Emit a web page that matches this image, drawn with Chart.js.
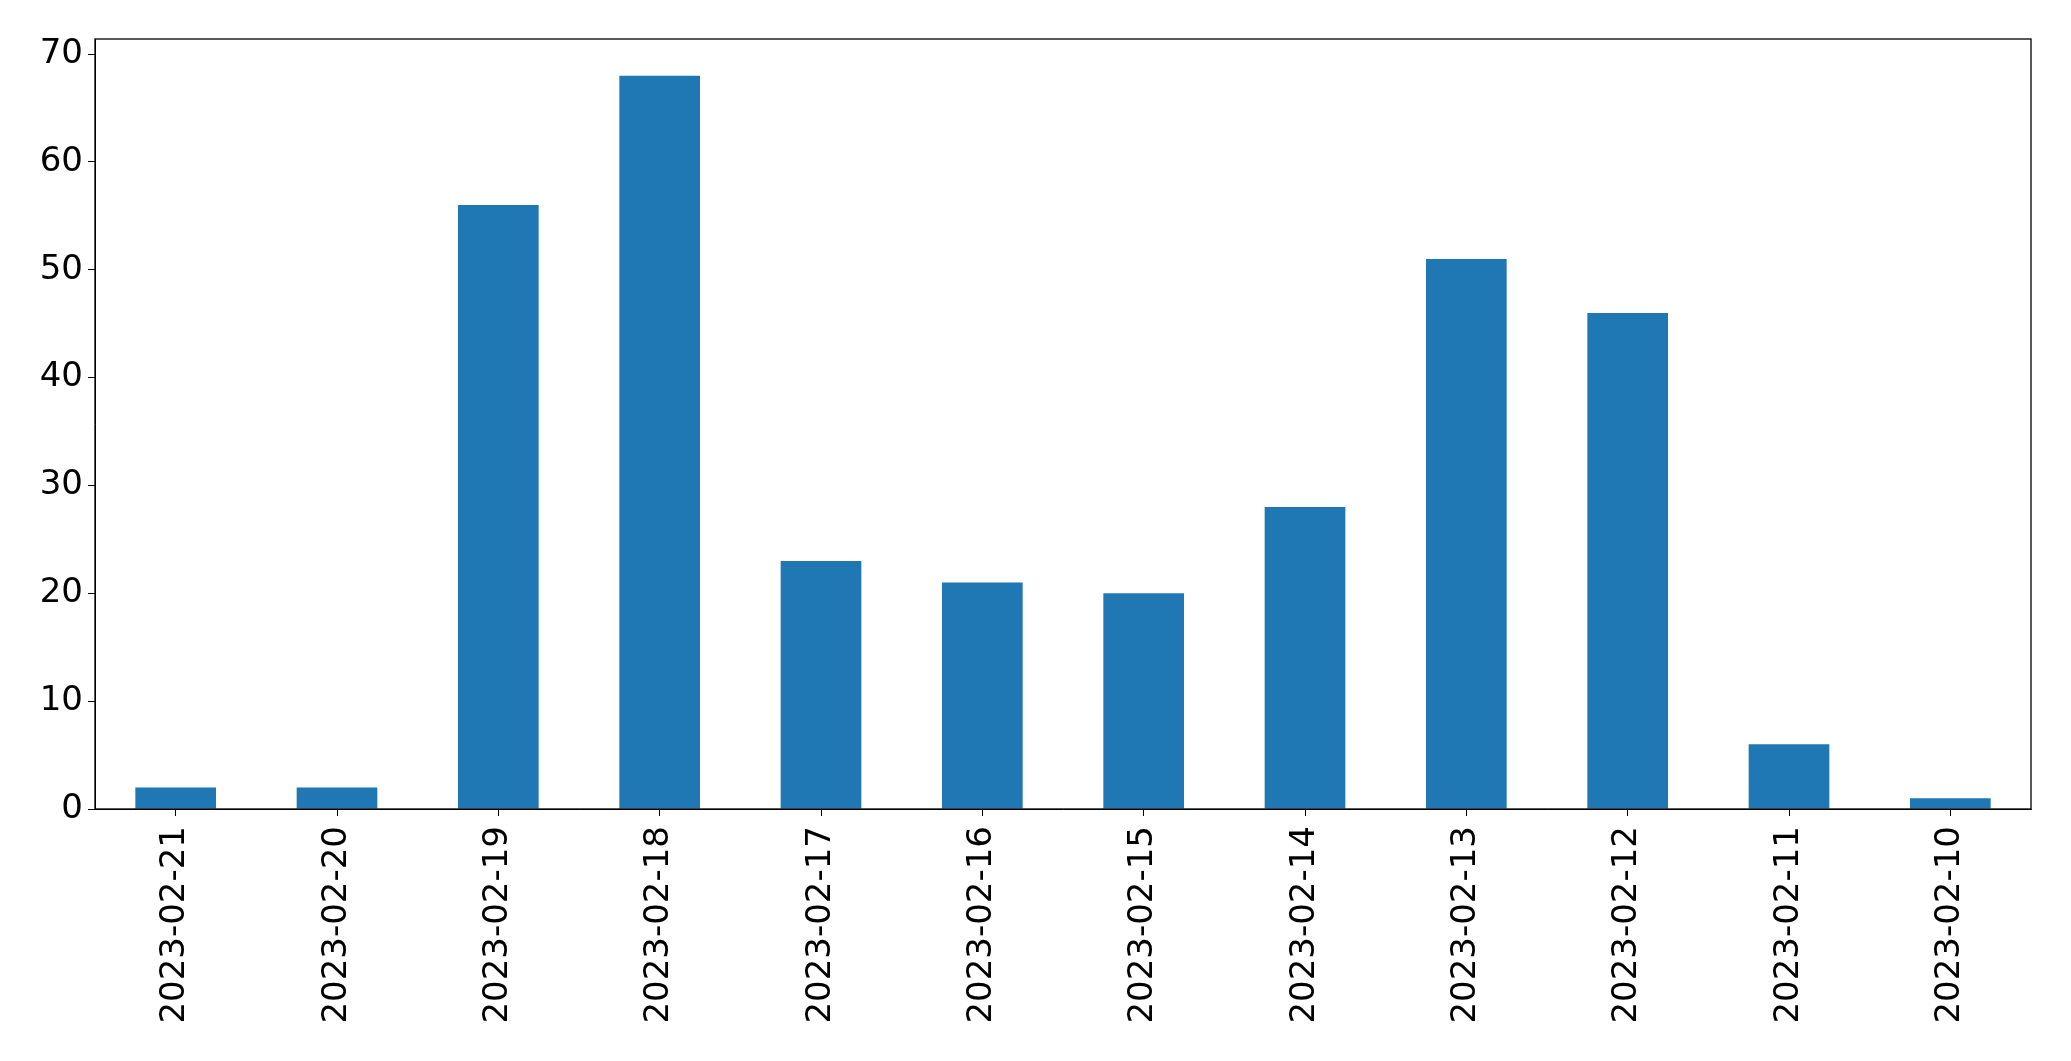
<!DOCTYPE html>
<html>
<head>
<meta charset="utf-8">
<script src="https://cdn.jsdelivr.net/npm/chart.js@4"></script>
<style>
  body { margin: 0; background: #fff; }
  #wrap { width: 2071px; height: 1061px; }
</style>
</head>
<body>
<div id="wrap"><canvas id="mainChart"></canvas></div>
<script>
const dates = ['2023-02-21', '2023-02-20', '2023-02-19', '2023-02-18', '2023-02-17', '2023-02-16',
               '2023-02-15', '2023-02-14', '2023-02-13', '2023-02-12', '2023-02-11', '2023-02-10'];
const counts = [2, 2, 56, 68, 23, 21, 20, 28, 51, 46, 6, 1];
const yTicks = [0, 10, 20, 30, 40, 50, 60, 70];

const tickFont = { family: 'DejaVu Sans', size: 34 };

// draws the black box round the plot area
const frame = {
    id: 'frame',
    afterDraw(chart) {
        const a = chart.chartArea;
        const ctx = chart.ctx;
        ctx.save();
        ctx.strokeStyle = '#000';
        ctx.lineWidth = 1.3;
        ctx.strokeRect(a.left, a.top, a.right - a.left, a.bottom - a.top);
        ctx.restore();
    }
};

let mainChartConfig = {
    type: 'bar',
    data: {
        labels: dates,
        datasets: [{
            data: counts,
            backgroundColor: '#1f77b4',
            categoryPercentage: 1.0,
            barPercentage: 0.5
        }]
    },
    options: {
        responsive: true,
        maintainAspectRatio: false,
        animation: false,
        layout: { padding: { top: 39, right: 40, left: 0, bottom: 0 } },
        plugins: { legend: { display: false }, tooltip: { enabled: false } },
        scales: {
            x: {
                grid: { offset: false, drawOnChartArea: false, drawTicks: true, tickLength: 7, color: '#000' },
                border: { display: true, color: '#000' },
                ticks: { color: '#000', font: tickFont, minRotation: 90, maxRotation: 90, padding: 10, autoSkip: false },
                afterFit(scale) { scale.height = 252; }
            },
            y: {
                min: 0,
                max: 71.4,
                grid: { drawOnChartArea: false, drawTicks: true, tickLength: 7, color: '#000' },
                border: { display: true, color: '#000' },
                ticks: { color: '#000', font: tickFont, padding: 5 },
                afterBuildTicks(scale) { scale.ticks = yTicks.map(v => ({ value: v })); },
                afterFit(scale) { scale.width = 95; }
            }
        }
    },
    plugins: [frame]
};

window.onload = function() {
    let ctx = document.getElementById('mainChart').getContext('2d');
    window.myBar = new Chart(ctx, mainChartConfig);
};
</script>
</body>
</html>
